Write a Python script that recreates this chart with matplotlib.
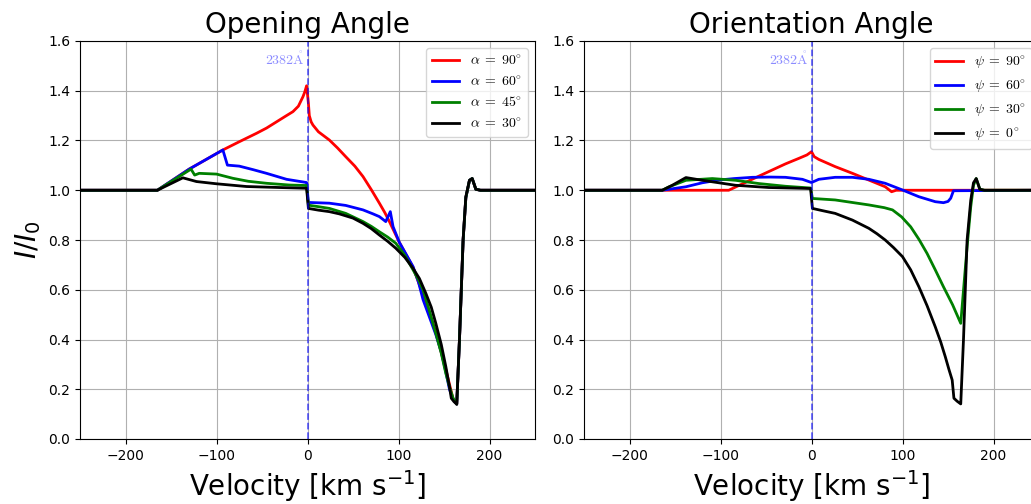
import numpy as np
import matplotlib
matplotlib.use("Agg")
import matplotlib.pyplot as plt
from matplotlib.font_manager import FontProperties

# === data (velocity [km/s], I/I0) ===
# Opening angle panel
v_a90 = [-250, -165, -130, -93, -75, -56, -45, -31, -24, -16, -10, -5, -3, -1, 1, 2, 4, 6, 12, 24, 33, 42,
         52, 61, 70, 79, 85, 90, 101, 116, 127, 141, 152, 160, 164, 167, 171, 174, 178, 181, 185, 190, 250]
I_a90 = [1.0, 1.0, 1.085, 1.162, 1.195, 1.229, 1.25, 1.282, 1.298, 1.316, 1.338, 1.376, 1.395, 1.42,
         1.35, 1.30, 1.275, 1.262, 1.235, 1.202, 1.17, 1.135, 1.097, 1.055, 1.003, 0.948, 0.91, 0.874,
         0.79, 0.69, 0.58, 0.43, 0.28, 0.16, 0.14, 0.40, 0.80, 0.97, 1.04, 1.047, 1.004, 1.0, 1.0]

v_a60 = [-250, -165, -130, -93, -88, -75, -60, -45, -23, -1, 1, 24, 42, 61, 72, 79, 86, 91, 94, 101, 108,
         116, 122, 127, 134, 141, 147, 152, 156, 160, 164, 167, 171, 174, 178, 181, 185, 190, 250]
I_a60 = [1.0, 1.0, 1.085, 1.162, 1.101, 1.097, 1.083, 1.068, 1.044, 1.031, 0.951, 0.948, 0.939, 0.921,
         0.905, 0.894, 0.874, 0.914, 0.854, 0.79, 0.745, 0.693, 0.63, 0.56, 0.49, 0.42, 0.35, 0.27, 0.20,
         0.16, 0.14, 0.40, 0.80, 0.97, 1.04, 1.047, 1.004, 1.0, 1.0]

v_a45 = [-250, -165, -128, -124, -119, -100, -82, -65, -45, -20, -1, 1, 12, 24, 42, 61, 70, 79, 88, 97, 107,
         116, 122, 127, 134, 141, 147, 152, 156, 160, 164, 167, 171, 174, 178, 181, 185, 190, 250]
I_a45 = [1.0, 1.0, 1.085, 1.061, 1.068, 1.065, 1.048, 1.036, 1.028, 1.021, 1.019, 0.94, 0.934, 0.927, 0.907,
         0.874, 0.855, 0.833, 0.812, 0.787, 0.738, 0.68, 0.64, 0.599, 0.515, 0.425, 0.345, 0.264, 0.21,
         0.164, 0.14, 0.40, 0.80, 0.97, 1.04, 1.047, 1.004, 1.0, 1.0]

v_a30 = [-250, -165, -137, -122, -100, -67, -31, -1, 1, 12, 24, 35, 50, 61, 70, 79, 88, 97, 107, 116, 123,
         130, 136, 141, 147, 152, 156, 158, 161, 164, 167, 171, 174, 178, 181, 185, 190, 250]
I_a30 = [1.0, 1.0, 1.05, 1.035, 1.026, 1.015, 1.011, 1.008, 0.927, 0.92, 0.914, 0.905, 0.888, 0.867, 0.846,
         0.82, 0.795, 0.767, 0.73, 0.686, 0.645, 0.586, 0.53, 0.465, 0.38, 0.291, 0.21, 0.164, 0.15, 0.14,
         0.40, 0.80, 0.974, 1.04, 1.047, 1.004, 1.0, 1.0]

# Orientation angle panel
v_p90 = [-250, -91, -60, -28.6, -14, -5, 0, 3, 8, 26, 45, 63, 81, 88, 93, 250]
I_p90 = [1.0, 1.0, 1.053, 1.106, 1.128, 1.142, 1.155, 1.135, 1.124, 1.095, 1.068, 1.041, 1.014, 0.994,
         1.0, 1.0]

v_p60 = [-250, -164, -138, -120, -102, -85, -65, -45, -28.6, -10, 0, 8, 26, 45, 63, 81, 100, 118, 136, 145,
         150, 153, 156, 250]
I_p60 = [1.0, 1.0, 1.014, 1.03, 1.041, 1.047, 1.052, 1.053, 1.052, 1.044, 1.031, 1.044, 1.052, 1.052, 1.044,
         1.028, 1.001, 0.974, 0.954, 0.95, 0.955, 0.968, 0.998, 1.0]

v_p30 = [-250, -164, -157, -138, -109, -83.5, -58, -28.6, -1, 1, 26, 63, 80, 89, 99, 109, 118, 127, 136,
         145, 155, 164, 171, 175, 178, 181, 185, 190, 250]
I_p30 = [1.0, 1.0, 1.013, 1.04, 1.047, 1.04, 1.027, 1.016, 1.009, 0.967, 0.961, 0.941, 0.93, 0.921, 0.893,
         0.853, 0.803, 0.746, 0.68, 0.612, 0.54, 0.465, 0.773, 0.934, 1.02, 1.047, 1.004, 1.0, 1.0]

v_p0 = [-250, -164, -153, -138, -120, -83.5, -47, -1, 1, 12, 26, 45, 63, 72, 81, 90, 100, 109, 118, 127, 136,
        142, 147, 151, 154.6, 156.5, 160, 164, 167, 171, 175, 178, 181, 185, 190, 250]
I_p0 = [1.0, 1.0, 1.02, 1.051, 1.04, 1.02, 1.011, 1.007, 0.927, 0.918, 0.907, 0.88, 0.847, 0.825, 0.80,
        0.77, 0.733, 0.68, 0.612, 0.536, 0.451, 0.39, 0.331, 0.28, 0.237, 0.164, 0.152, 0.141, 0.398, 0.80,
        0.96, 1.03, 1.047, 1.004, 1.0, 1.0]

colors = ['red', 'blue', 'green', 'black']
labels_alpha = [r'$\alpha\;=\;90^{\circ}$', r'$\alpha\;=\;60^{\circ}$',
                r'$\alpha\;=\;45^{\circ}$', r'$\alpha\;=\;30^{\circ}$']
labels_psi = [r'$\psi\;=\;90^{\circ}$', r'$\psi\;=\;60^{\circ}$',
              r'$\psi\;=\;30^{\circ}$', r'$\psi\;=\;0^{\circ}$']

fig = plt.figure(figsize=(10.31, 5.04), dpi=100)
W, H = 1031, 504
ax1 = fig.add_axes([80 / W, 65 / H, 455 / W, 398 / H])
ax2 = fig.add_axes([584 / W, 65 / H, 455 / W, 398 / H])  # runs past the right edge, as in the reference

legend_font = FontProperties(size=10, math_fontfamily='cm')

panels = [
    (ax1, 'Opening Angle', [(v_a90, I_a90), (v_a60, I_a60), (v_a45, I_a45), (v_a30, I_a30)], labels_alpha),
    (ax2, 'Orientation Angle', [(v_p90, I_p90), (v_p60, I_p60), (v_p30, I_p30), (v_p0, I_p0)], labels_psi),
]

for ax, title, curves, labels in panels:
    for (v, I), c, lab in zip(curves, colors, labels):
        ax.plot(v, I, color=c, lw=2, label=lab)
    ax.axvline(0, color='blue', ls='--', lw=1.3, alpha=0.6)
    ax.text(-3, 1.525, r'$\mathrm{2382\mathring{A}}$', color='blue', alpha=0.45, ha='right', va='center',
            fontsize=10, math_fontfamily='cm')
    ax.set_xlim(-250, 250)
    ax.set_ylim(0, 1.6)
    ax.set_xticks([-200, -100, 0, 100, 200])
    ax.set_yticks(np.arange(0, 1.61, 0.2))
    ax.grid(True)
    ax.set_title(title, fontsize=20)
    ax.set_xlabel(r'Velocity [km s$^{-1}$]', fontsize=20)
    ax.legend(loc='upper right', prop=legend_font)

ax1.set_ylabel(r'$I/I_0$', fontsize=20)

fig.savefig('out.png', dpi=100)
